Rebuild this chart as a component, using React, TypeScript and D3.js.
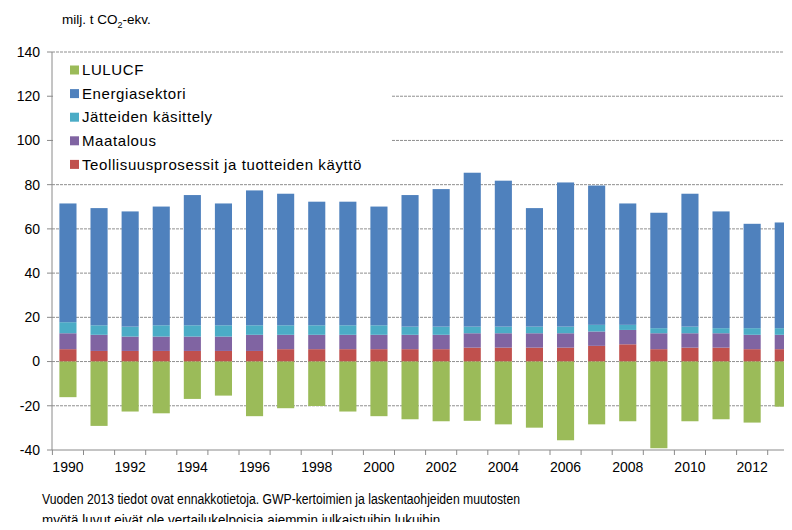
import React from 'react';
import * as d3 from 'd3';

const years = d3.range(1990, 2014).map(String);
// milj. t CO2-ekv.
const teollisuus = [5.6, 4.8, 4.8, 4.8, 4.8, 4.8, 4.8, 5.6, 5.6, 5.6, 5.6, 5.6, 5.6, 6.3, 6.3, 6.3, 6.3, 7.1, 7.8, 5.6, 6.3, 6.3, 5.6, 5.6];
const maatalous = [7.2, 7.3, 6.5, 6.5, 6.5, 6.5, 7.3, 6.5, 6.5, 6.5, 6.5, 6.5, 6.5, 6.5, 6.5, 6.5, 6.5, 6.5, 6.5, 7.2, 6.5, 6.5, 6.5, 6.5];
const jatteet = [5.0, 4.3, 4.5, 5.1, 5.1, 5.1, 4.3, 4.3, 4.3, 4.3, 4.3, 3.7, 3.7, 3.0, 3.0, 3.0, 3.0, 3.0, 2.3, 2.3, 3.0, 2.3, 3.0, 3.0];
const energia = [53.7, 53.0, 52.1, 53.7, 58.9, 55.1, 61.0, 59.5, 55.9, 55.9, 53.7, 59.5, 62.2, 69.6, 66.0, 53.6, 65.2, 63.0, 54.9, 52.2, 60.1, 52.8, 47.2, 47.8];
const lulucf = [-16.1, -29.1, -22.6, -23.4, -16.9, -15.4, -24.7, -21.1, -20.1, -22.6, -24.7, -26.1, -27.0, -26.8, -28.4, -29.9, -35.6, -28.4, -27.0, -39.2, -27.0, -26.1, -27.6, -20.4];

const yTicks = [-40, -20, 0, 20, 40, 60, 80, 100, 120, 140];

const series = [
  { key: 'teollisuus', label: 'Teollisuusprosessit ja tuotteiden käyttö', color: '#C0504D', values: teollisuus },
  { key: 'maatalous', label: 'Maatalous', color: '#8064A2', values: maatalous },
  { key: 'jatteet', label: 'Jätteiden käsittely', color: '#4BACC6', values: jatteet },
  { key: 'energia', label: 'Energiasektori', color: '#4F81BD', values: energia },
  { key: 'lulucf', label: 'LULUCF', color: '#9BBB59', values: lulucf },
];
const legendOrder = ['lulucf', 'energia', 'jatteet', 'maatalous', 'teollisuus'];

export default function App() {
  const width = 792;
  const height = 530;
  const font = 'Arial, "Liberation Sans", sans-serif';

  const x = d3.scaleBand().domain(years).range([52.4, 798.8]).padding(0);
  const y = d3.scaleLinear().domain([-40, 140]).range([450, 52]);
  const barW = x.bandwidth() * 0.55;

  const rows = years.map((yr, i) => {
    const r: any = { year: yr };
    series.forEach(s => (r[s.key] = s.values[i]));
    return r;
  });
  const stacked = d3.stack<any>()
    .keys(series.map(s => s.key))
    .offset(d3.stackOffsetDiverging)(rows);

  return (
    <svg width={width} height={height} style={{ display: 'block', margin: -8 }} fontFamily={font}>
      <rect width={width} height={height} fill="#fff" />
      <text x={62} y={24} fontSize={13.5} fill="#000">
        milj.  t CO<tspan fontSize={9} dy={4}>2</tspan><tspan dy={-4}>-ekv.</tspan>
      </text>

      {yTicks.map(t => (
        <g key={t}>
          {t > -40 && (
            <line x1={52} x2={width} y1={y(t)} y2={y(t)} stroke="#8f8f8f" strokeWidth={1} strokeDasharray="3,1" />
          )}
          <line x1={47} x2={52} y1={y(t)} y2={y(t)} stroke="#8a8a8a" />
          <text x={40} y={y(t)} dy="0.35em" textAnchor="end" fontSize={14} fill="#000">{t}</text>
        </g>
      ))}

      {stacked.map((layer, li) => (
        <g key={layer.key} fill={series[li].color}>
          {layer.map((d, i) => (
            <rect
              key={i}
              x={(x(years[i]) as number) + (x.bandwidth() - barW) / 2}
              y={y(Math.max(d[0], d[1]))}
              width={barW}
              height={Math.abs(y(d[0]) - y(d[1]))}
            />
          ))}
        </g>
      ))}

      {/* axes */}
      <line x1={52} x2={52} y1={52} y2={450} stroke="#8a8a8a" />
      <line x1={52} x2={width} y1={450} y2={450} stroke="#8a8a8a" />
      {years.map(yr => (
        <line key={yr} x1={(x(yr) as number)} x2={(x(yr) as number)} y1={450} y2={455} stroke="#8a8a8a" />
      ))}
      {years.filter((_, i) => i % 2 === 0).map(yr => (
        <text key={yr} x={(x(yr) as number) + x.bandwidth() / 2} y={472} textAnchor="middle" fontSize={14} fill="#000">{yr}</text>
      ))}

      {/* legend */}
      <rect x={53} y={54} width={339} height={124} fill="#fff" />
      {legendOrder.map((k, i) => {
        const s = series.find(d => d.key === k)!;
        const cy = 70 + i * 23.6;
        return (
          <g key={k}>
            <rect x={70} y={cy - 4.5} width={9} height={9} fill={s.color} />
            <text x={82} y={cy} dy="0.35em" fontSize={15} letterSpacing={0.6} fill="#000">{s.label}</text>
          </g>
        );
      })}

      <text x={42} y={504} fontSize={14} fill="#000" textLength={478} lengthAdjust="spacingAndGlyphs">
        Vuoden 2013 tiedot ovat ennakkotietoja. GWP-kertoimien ja laskentaohjeiden muutosten
      </text>
      <text x={42} y={525} fontSize={14} fill="#000" textLength={402} lengthAdjust="spacingAndGlyphs">
        myötä luvut eivät ole vertailukelpoisia aiemmin  julkaistuihin  lukuihin.
      </text>
    </svg>
  );
}
